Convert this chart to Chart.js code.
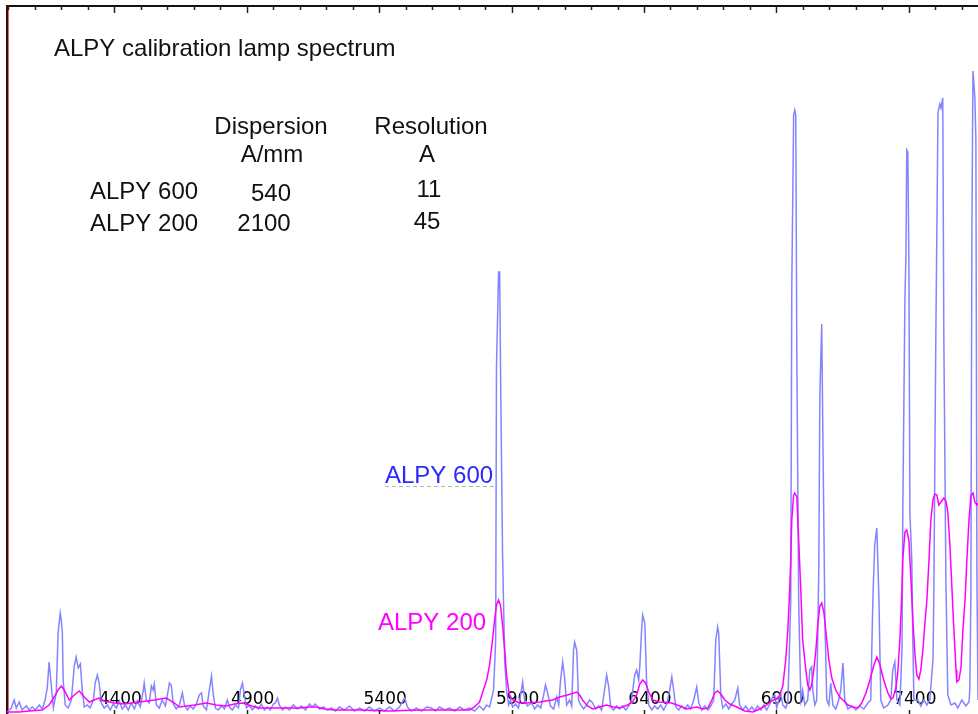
<!DOCTYPE html>
<html>
<head>
<meta charset="utf-8">
<title>ALPY calibration lamp spectrum</title>
<script src="https://cdn.jsdelivr.net/npm/chart.js@4.4.1/dist/chart.umd.min.js"></script>
<style>
  html, body { margin: 0; padding: 0; background: #fff; overflow: hidden; }
  #wrap { position: relative; width: 978px; height: 714px; overflow: hidden; }
  #wrap canvas { position: absolute; left: 0; top: 0; }
</style>
</head>
<body>
<div id="wrap"><canvas id="spec" width="978" height="722"></canvas></div>
<script>
// wavelength (A) , intensity (arb. units)
var alpy600 = [
  [3996,20],[4011,60],[4022,140],[4030,60],[4041,120],[4052,40],[4068,80],[4079,40],[4090,70],[4102,40],[4117,90],[4128,50],[4139,140],[4147,260],[4154,520],[4162,290],[4170,60],[4181,210],[4188,810],[4196,1010],[4200,940],[4204,810],[4207,340],[4215,90],[4226,60],[4238,140],[4249,480],[4256,570],[4264,460],[4272,500],[4279,240],[4287,70],[4298,90],[4309,60],[4321,140],[4328,310],[4336,390],[4343,310],[4351,110],[4362,60],[4374,90],[4385,40],[4396,100],[4408,60],[4419,130],[4430,50],[4442,90],[4453,40],[4464,110],[4476,50],[4487,130],[4498,70],[4510,240],[4513,310],[4521,140],[4532,110],[4540,280],[4547,240],[4551,300],[4559,90],[4570,60],[4581,140],[4593,80],[4604,240],[4608,310],[4615,290],[4623,100],[4634,50],[4646,90],[4657,210],[4665,90],[4676,40],[4687,80],[4698,50],[4710,100],[4721,190],[4729,210],[4736,80],[4748,40],[4759,240],[4767,380],[4774,190],[4782,60],[4793,40],[4804,80],[4816,50],[4827,140],[4835,70],[4846,40],[4857,90],[4869,60],[4876,240],[4884,310],[4891,190],[4899,60],[4910,90],[4921,40],[4933,80],[4944,50],[4955,100],[4967,40],[4978,70],[4989,40],[5001,100],[5008,110],[5016,160],[5023,90],[5035,40],[5046,70],[5061,40],[5076,90],[5091,50],[5107,80],[5122,40],[5137,100],[5148,70],[5159,100],[5175,50],[5190,70],[5205,40],[5220,60],[5235,30],[5250,70],[5269,40],[5288,80],[5307,30],[5326,60],[5345,30],[5363,70],[5382,30],[5401,60],[5420,30],[5439,70],[5458,30],[5477,70],[5496,160],[5507,70],[5522,30],[5541,60],[5560,30],[5579,70],[5598,60],[5613,30],[5628,70],[5647,40],[5666,60],[5685,30],[5704,70],[5722,40],[5741,60],[5760,30],[5779,80],[5794,40],[5806,90],[5817,70],[5825,160],[5832,240],[5840,740],[5843,3470],[5851,4420],[5855,4420],[5858,3520],[5866,1600],[5874,540],[5881,240],[5889,90],[5896,140],[5904,70],[5915,100],[5926,60],[5934,190],[5942,320],[5949,140],[5960,80],[5976,110],[5987,50],[5998,90],[6010,60],[6021,190],[6028,290],[6036,210],[6047,80],[6059,50],[6070,170],[6078,90],[6085,340],[6093,520],[6100,370],[6108,90],[6119,140],[6127,80],[6134,640],[6138,720],[6146,640],[6153,140],[6161,90],[6172,50],[6183,90],[6195,140],[6206,110],[6217,50],[6229,80],[6240,40],[6251,240],[6259,390],[6267,270],[6274,70],[6285,40],[6297,80],[6308,50],[6319,80],[6331,40],[6342,80],[6353,140],[6365,390],[6372,440],[6380,340],[6384,470],[6391,840],[6395,990],[6403,910],[6410,310],[6418,90],[6429,40],[6440,80],[6452,50],[6463,90],[6474,40],[6486,100],[6497,240],[6505,370],[6512,240],[6520,70],[6531,40],[6542,80],[6554,50],[6565,90],[6576,50],[6588,140],[6599,270],[6607,110],[6618,40],[6629,80],[6641,40],[6652,80],[6663,140],[6671,740],[6678,870],[6682,810],[6690,190],[6697,60],[6709,100],[6720,50],[6731,100],[6743,140],[6754,260],[6761,90],[6773,40],[6784,80],[6795,30],[6807,70],[6818,30],[6829,80],[6841,40],[6852,90],[6863,40],[6875,100],[6886,170],[6894,190],[6901,60],[6909,140],[6916,210],[6924,90],[6935,60],[6943,120],[6950,740],[6954,1140],[6958,4290],[6965,5990],[6969,6040],[6973,5990],[6977,3580],[6984,1140],[6992,140],[6999,240],[7007,90],[7018,140],[7026,440],[7033,470],[7037,240],[7045,90],[7052,140],[7060,1470],[7064,3200],[7071,3900],[7075,2860],[7083,940],[7090,140],[7098,90],[7105,310],[7113,90],[7124,50],[7135,140],[7143,240],[7151,510],[7158,140],[7170,50],[7185,80],[7200,40],[7215,80],[7230,50],[7245,110],[7256,140],[7264,1140],[7271,1690],[7279,1860],[7287,1140],[7294,140],[7305,60],[7321,90],[7332,140],[7339,440],[7347,520],[7355,140],[7366,90],[7374,640],[7377,1990],[7385,4140],[7389,4580],[7392,5640],[7396,5620],[7400,4580],[7404,2000],[7411,1540],[7415,740],[7419,140],[7434,140],[7445,80],[7457,140],[7468,90],[7479,140],[7491,540],[7494,1140],[7502,3840],[7510,6020],[7517,6100],[7521,6060],[7528,6160],[7532,3770],[7540,1290],[7547,190],[7559,90],[7574,110],[7585,60],[7600,140],[7615,80],[7627,120],[7630,240],[7634,1140],[7638,4860],[7642,6430],[7649,6170],[7653,5750],[7657,1380],[7661,140]
];

var alpy200 = [
  [3996,20],[4022,20],[4041,20],[4079,30],[4128,40],[4154,90],[4173,170],[4188,240],[4200,280],[4211,240],[4230,140],[4249,190],[4268,230],[4287,170],[4306,120],[4324,140],[4343,160],[4362,130],[4400,110],[4438,100],[4495,120],[4551,140],[4596,160],[4627,110],[4646,70],[4702,90],[4748,110],[4785,90],[4823,80],[4853,100],[4884,110],[4918,80],[4948,60],[5023,60],[5099,60],[5137,70],[5163,70],[5193,50],[5231,40],[5326,40],[5439,30],[5552,40],[5666,40],[5741,40],[5760,70],[5779,120],[5790,210],[5806,340],[5817,490],[5828,740],[5836,940],[5843,1090],[5851,1140],[5858,1090],[5866,890],[5874,640],[5881,390],[5892,190],[5904,140],[5930,110],[5957,110],[6006,120],[6055,140],[6081,170],[6111,190],[6146,220],[6157,190],[6168,140],[6187,80],[6206,50],[6233,70],[6259,90],[6285,70],[6308,60],[6338,90],[6357,120],[6372,190],[6384,300],[6395,340],[6406,310],[6418,220],[6433,140],[6459,120],[6505,110],[6535,80],[6561,50],[6599,70],[6622,50],[6641,60],[6656,140],[6667,210],[6678,230],[6690,200],[6705,140],[6724,100],[6750,70],[6780,30],[6811,20],[6837,50],[6863,90],[6882,130],[6901,150],[6913,190],[6924,280],[6935,540],[6943,840],[6950,1240],[6954,1540],[6958,1940],[6965,2190],[6969,2210],[6977,2170],[6984,1740],[6992,1240],[6999,740],[7011,440],[7018,290],[7026,240],[7033,290],[7041,440],[7049,640],[7056,890],[7064,1080],[7071,1110],[7079,1020],[7086,840],[7098,540],[7109,360],[7124,240],[7139,170],[7151,140],[7170,90],[7188,70],[7207,60],[7222,110],[7238,210],[7253,340],[7268,490],[7279,570],[7290,500],[7305,340],[7321,210],[7332,150],[7340,160],[7351,260],[7358,410],[7366,740],[7374,1240],[7377,1540],[7385,1820],[7392,1840],[7400,1740],[7408,1340],[7415,940],[7423,590],[7430,390],[7438,350],[7445,440],[7453,640],[7460,890],[7468,1140],[7476,1540],[7483,1940],[7491,2140],[7498,2200],[7506,2190],[7513,2090],[7521,2120],[7532,2160],[7540,2130],[7547,2020],[7555,1690],[7562,1290],[7570,840],[7578,440],[7581,320],[7589,340],[7597,470],[7604,840],[7612,1140],[7619,1540],[7627,1940],[7634,2180],[7642,2210],[7649,2120],[7657,2090],[7661,2110]
];

var tickWaves = [4400, 4900, 5400, 5900, 6400, 6900, 7400];
var xMin = 3995, xMax = 7661;
var yMax = 7080;

var tableHead = [['Dispersion', 'A/mm'], ['Resolution', 'A']];
var tableRows = [['ALPY 600', '540', '11'], ['ALPY 200', '2100', '45']];

function toXY(arr) {
  return arr.map(function (p) { return { x: p[0], y: p[1] }; });
}

// inward ticks on top and bottom frame
var frameTicks = {
  id: 'frameTicks',
  afterDraw: function (chart) {
    var ctx = chart.ctx, xs = chart.scales.x, area = chart.chartArea;
    ctx.save();
    ctx.strokeStyle = '#222';
    ctx.lineWidth = 1.5;
    for (var v = 4000; v <= xMax; v += 100) {
      var px = Math.round(xs.getPixelForValue(v)) + 0.5;
      var major = (v - 4400) % 500 === 0;
      ctx.beginPath();
      ctx.moveTo(px, area.top);
      ctx.lineTo(px, area.top + (major ? 7 : 4));
      ctx.stroke();
      if (major) {
        ctx.beginPath();
        ctx.moveTo(px, area.bottom);
        ctx.lineTo(px, area.bottom - 4);
        ctx.stroke();
      }
    }
    ctx.restore();
  }
};

// title, table and series labels
var notes = {
  id: 'notes',
  afterDraw: function (chart) {
    var ctx = chart.ctx;
    ctx.save();
    ctx.font = '24px "Liberation Sans", Arial, sans-serif';
    ctx.fillStyle = '#111';
    ctx.textAlign = 'left';
    ctx.fillText('ALPY calibration lamp spectrum', 54, 56);

    ctx.textAlign = 'center';
    ctx.fillText(tableHead[0][0], 271, 134);
    ctx.fillText(tableHead[0][1], 272, 162);
    ctx.fillText(tableHead[1][0], 431, 134);
    ctx.fillText(tableHead[1][1], 427, 162);

    ctx.textAlign = 'left';
    ctx.fillText(tableRows[0][0], 90, 199);
    ctx.fillText(tableRows[1][0], 90, 231);
    ctx.textAlign = 'center';
    ctx.fillText(tableRows[0][1], 271, 201);
    ctx.fillText(tableRows[1][1], 264, 231);
    ctx.fillText(tableRows[0][2], 429, 197);
    ctx.fillText(tableRows[1][2], 427, 229);

    ctx.textAlign = 'left';
    ctx.fillStyle = '#2a2aff';
    ctx.fillText('ALPY 600', 385, 483);
    ctx.strokeStyle = '#b4b4b4';
    ctx.lineWidth = 1;
    ctx.setLineDash([4, 3]);
    ctx.beginPath();
    ctx.moveTo(385, 486.5);
    ctx.lineTo(494, 486.5);
    ctx.stroke();
    ctx.setLineDash([]);

    ctx.fillStyle = '#ff00ff';
    ctx.fillText('ALPY 200', 378, 630);
    ctx.restore();
  }
};

var ctx = document.getElementById('spec').getContext('2d');
var chart = new Chart(ctx, {
  type: 'line',
  data: {
    datasets: [
      {
        label: 'ALPY 200',
        data: toXY(alpy200),
        borderColor: '#ff00ff',
        borderWidth: 1.5,
        pointRadius: 0,
        tension: 0,
        fill: false
      },
      {
        label: 'ALPY 600',
        data: toXY(alpy600),
        borderColor: '#8484ff',
        borderWidth: 1.5,
        pointRadius: 0,
        tension: 0,
        fill: false
      }
    ]
  },
  options: {
    responsive: false,
    animation: false,
    devicePixelRatio: 1,
    layout: { padding: { left: 7, top: 6, right: 0, bottom: 0 } },
    plugins: {
      legend: { display: false },
      tooltip: { enabled: false }
    },
    scales: {
      x: {
        type: 'linear',
        position: 'bottom',
        min: xMin,
        max: xMax,
        afterBuildTicks: function (axis) {
          axis.ticks = tickWaves.map(function (v) { return { value: v }; });
        },
        grid: { display: false, drawTicks: false },
        border: { display: false },
        ticks: {
          mirror: true,
          padding: 4,
          labelOffset: 6,
          autoSkip: false,
          maxRotation: 0,
          color: '#000',
          font: { family: 'DejaVu Sans', size: 17 },
          callback: function (v) { return String(v); }
        }
      },
      xTop: {
        axis: 'x',
        type: 'linear',
        position: 'top',
        min: xMin,
        max: xMax,
        grid: { display: false, drawTicks: false },
        border: { display: true, color: '#111', width: 2 },
        ticks: { display: false }
      },
      y: {
        min: 0,
        max: yMax,
        grid: { display: false, drawTicks: false },
        border: { display: true, color: '#4a0404', width: 2.5 },
        ticks: { display: false }
      }
    }
  },
  plugins: [frameTicks, notes]
});
</script>
</body>
</html>
